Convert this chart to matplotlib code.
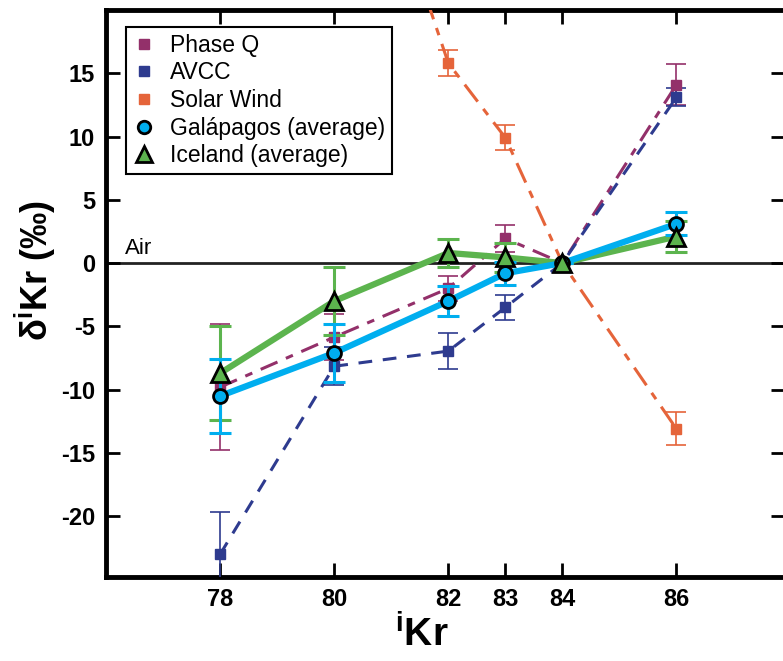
'''Kr isotope ratios vs air for several reservoirs'''

import numpy as np
import matplotlib
matplotlib.use("Agg")
import matplotlib.pyplot as plt

plt.rcParams["font.family"] = ["Liberation Sans", "DejaVu Sans"]
plt.rcParams["mathtext.fontset"] = "custom"
plt.rcParams["mathtext.rm"] = "Liberation Sans"
plt.rcParams["mathtext.bf"] = "Liberation Sans:bold"
plt.rcParams["axes.unicode_minus"] = False

# isotope masses
masses = [78, 80, 82, 83, 84, 86]

phase_q = [-9.8, -5.85, -2.0, 1.95, 0.0, 14.1]
phase_q_err = [4.95, 1.8, 1.0, 1.05, 0.0, 1.6]

avcc = [-23.0, -8.15, -6.95, -3.5, 0.0, 13.1]
avcc_err = [3.3, 1.5, 1.45, 1.0, 0.0, 0.7]

solar_wind = [42.5, 15.8, 9.9, 0.0, -13.1]
solar_wind_masses = [80, 82, 83, 84, 86]
solar_wind_err = [0.0, 1.0, 1.0, 0.0, 1.3]

galapagos = [-10.5, -7.1, -3.0, -0.8, 0.0, 3.1]
galapagos_err = [2.9, 2.3, 1.2, 0.9, 0.0, 0.9]

iceland = [-8.7, -3.0, 0.8, 0.45, 0.0, 2.1]
iceland_err = [3.7, 2.7, 1.1, 1.15, 0.0, 1.2]

c_q = "#93306A"
c_avcc = "#2E3B8F"
c_sw = "#E5643A"
c_gal = "#00AEEF"
c_ice = "#5CB44E"

fig = plt.figure(figsize=(7.83, 6.61), dpi=100)
ax = fig.add_axes([0.1354, 0.127, 0.867, 0.858])

ax.axhline(0, color="#222222", lw=2, zorder=1)
ax.text(76.33, 0.3, "Air", fontsize=16, va="bottom")

ax.errorbar(masses, phase_q, yerr=phase_q_err, color=c_q, lw=2.2,
            dashes=[6, 3, 2.5, 3], marker="s", ms=7, elinewidth=1.2,
            capsize=7, capthick=1.2, zorder=3)
ax.errorbar(masses, avcc, yerr=avcc_err, color=c_avcc, lw=2.2,
            dashes=[4.5, 3.5], marker="s", ms=7, elinewidth=1.2,
            capsize=7, capthick=1.2, zorder=3)
ax.errorbar(solar_wind_masses, solar_wind, yerr=solar_wind_err, color=c_sw,
            lw=2.2, dashes=[7, 3, 2.5, 3], marker="s", ms=7, elinewidth=1.2,
            capsize=7, capthick=1.2, zorder=3)

ax.errorbar(masses, iceland, yerr=iceland_err, color=c_ice, lw=4.5,
            elinewidth=2.2, capsize=8, capthick=2.2, zorder=4)
ax.errorbar(masses, galapagos, yerr=galapagos_err, color=c_gal, lw=4.5,
            elinewidth=2.2, capsize=8, capthick=2.2, zorder=5)
ax.plot(masses, galapagos, ls="none", marker="o", ms=10, mfc=c_gal,
        mec="black", mew=2, zorder=6)
ax.plot(masses, iceland, ls="none", marker="^", ms=13, mfc=c_ice,
        mec="black", mew=2, zorder=7)

# legend handles (markers only)
h_q, = ax.plot([], [], ls="none", marker="s", ms=7, color=c_q)
h_a, = ax.plot([], [], ls="none", marker="s", ms=7, color=c_avcc)
h_s, = ax.plot([], [], ls="none", marker="s", ms=7, color=c_sw)
h_g, = ax.plot([], [], ls="none", marker="o", ms=9, mfc=c_gal, mec="black", mew=2)
h_i, = ax.plot([], [], ls="none", marker="^", ms=12, mfc=c_ice, mec="black", mew=2)
leg = ax.legend([h_q, h_a, h_s, h_g, h_i],
                ["Phase Q", "AVCC", "Solar Wind", "Galápagos (average)", "Iceland (average)"],
                loc="upper left", bbox_to_anchor=(0.0295, 0.970), fontsize=16.5,
                frameon=True, fancybox=False, framealpha=1, edgecolor="black",
                handlelength=1.0, handletextpad=0.6, labelspacing=0.2,
                borderpad=0.3, borderaxespad=0)
leg.get_frame().set_linewidth(1.5)

ax.set_xlim(76, 87.9)
ax.set_ylim(-24.8, 20)
ax.set_xticks(masses)
ax.set_yticks([-20, -15, -10, -5, 0, 5, 10, 15])
ax.tick_params(direction="in", length=10, width=2, top=True, right=True,
               labelsize=17, pad=8)
for lab in ax.get_xticklabels() + ax.get_yticklabels():
    lab.set_fontweight("bold")
for sp in ax.spines.values():
    sp.set_linewidth(3.5)

ax.set_xlabel(r"$^\mathbf{i}$Kr", fontsize=28, fontweight="bold")
ax.set_ylabel(r"δ$^\mathbf{i}$Kr (‰)", fontsize=26, fontweight="bold")
ax.xaxis.set_label_coords(0.465, -0.068)
ax.yaxis.set_label_coords(-0.07, 0.541)

plt.savefig("out.png", dpi=100)
